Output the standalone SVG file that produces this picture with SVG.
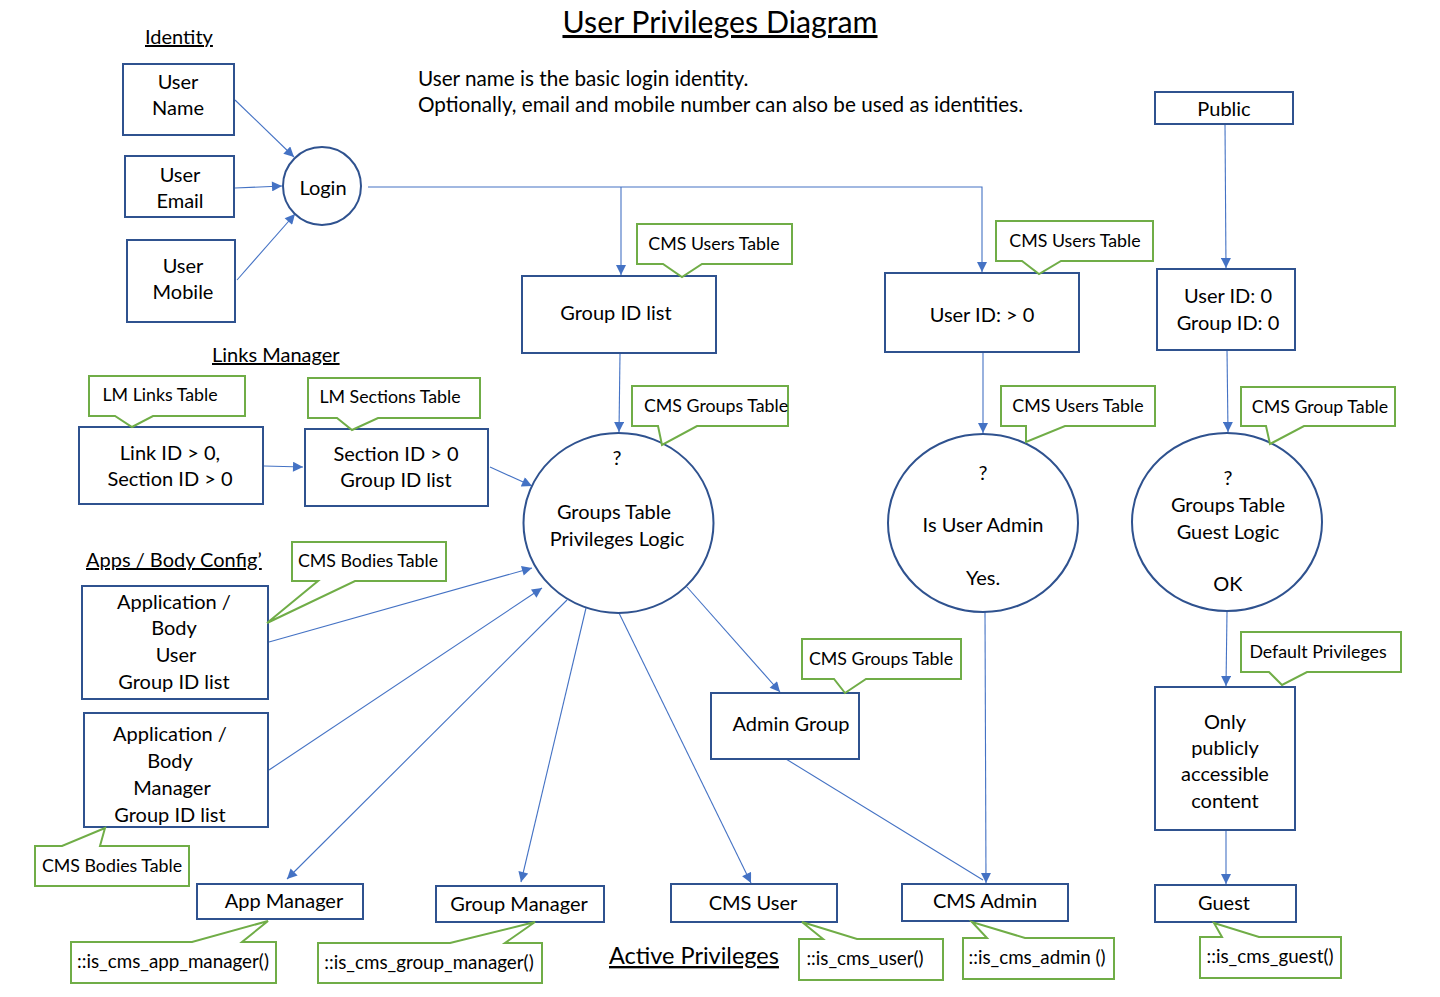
<svg xmlns="http://www.w3.org/2000/svg" width="1440" height="997" viewBox="0 0 1440 997">
<defs>
<marker id="ah" viewBox="0 0 10 10" refX="10" refY="5" markerWidth="11" markerHeight="10" markerUnits="userSpaceOnUse" orient="auto">
<path d="M0,0 L10,5 L0,10 Z" fill="#4472C4"/>
</marker>
<style>
text{font-family:Lato,"Open Sans","Liberation Sans",sans-serif;fill:#000}
.t{font-size:20px;text-anchor:middle}
.c{font-size:17.8px;text-anchor:middle}
.f{font-size:18.8px;text-anchor:middle}
.h{font-size:20px;text-decoration:underline}
.box{fill:#fff;stroke:#2F528F;stroke-width:2}
.co{fill:#fff;stroke:#70AD47;stroke-width:2}
.ln{fill:none;stroke:#4472C4;stroke-width:1.1}
.ar{fill:none;stroke:#4472C4;stroke-width:1.1;marker-end:url(#ah)}
</style>
</defs>
<rect width="1440" height="997" fill="#fff"/>

<g id="labels">
<text x="720" y="33" style="font-size:30.3px;text-anchor:middle;text-decoration:underline">User Privileges Diagram</text>
<text x="145" y="44" class="h">Identity</text>
<text x="212" y="362" class="h">Links Manager</text>
<text x="86" y="567" class="h">Apps / Body Config’</text>
<text x="609" y="964" class="h" style="font-size:23.5px">Active Privileges</text>
<text x="418" y="86" style="font-size:20.7px">User name is the basic login identity.</text>
<text x="418" y="112" style="font-size:20.7px">Optionally, email and mobile number can also be used as identities.</text>
</g>

<g id="connectors">
<path class="ar" d="M235,100 L294,157"/>
<path class="ar" d="M235,188 L282,186"/>
<path class="ar" d="M237,280 L295,214"/>
<path class="ar" d="M368,187 H982 V272"/>
<path class="ar" d="M621,187 V275"/>
<path class="ar" d="M620,354 L619,432"/>
<path class="ar" d="M983,353 V433"/>
<path class="ar" d="M1225,124 L1226,268"/>
<path class="ar" d="M1227,350 L1228,432"/>
<path class="ar" d="M264,466 L303,467"/>
<path class="ar" d="M490,467 L532,486"/>
<path class="ar" d="M269,642 L532,568"/>
<path class="ar" d="M269,770 L542,588"/>
<path class="ar" d="M567,600 L287,879"/>
<path class="ar" d="M586,608 L521,882"/>
<path class="ar" d="M619,613 L751,883"/>
<path class="ar" d="M687,587 L780,692"/>
<path class="ln" d="M786,759 L983,880"/>
<path class="ar" d="M985,612 L986,883"/>
<path class="ar" d="M1227,612 L1226,686"/>
<path class="ar" d="M1226,830 V884"/>
</g>

<g id="user-name"><rect class="box" x="123" y="64" width="111" height="71"/><text class="t" x="178" y="89">User</text><text class="t" x="178" y="115">Name</text></g>
<g id="user-email"><rect class="box" x="125" y="156" width="109" height="61"/><text class="t" x="180" y="182">User</text><text class="t" x="180" y="208">Email</text></g>
<g id="user-mobile"><rect class="box" x="127" y="240" width="108" height="82"/><text class="t" x="183" y="273">User</text><text class="t" x="183" y="299">Mobile</text></g>
<g id="login"><circle class="box" cx="322" cy="186" r="39"/><text class="t" x="323" y="195">Login</text></g>

<g id="group-id-list"><rect class="box" x="522" y="276" width="194" height="77"/><text class="t" x="616" y="320">Group ID list</text></g>
<g id="callout-cms-users-1"><path class="co" d="M637,224 H792 V264 H702 L682,277 L663,264 H637 Z"/><text class="c" x="714" y="250">CMS Users Table</text></g>

<g id="user-id-gt0"><rect class="box" x="885" y="273" width="194" height="79"/><text class="t" x="982" y="322">User ID: &gt; 0</text></g>
<g id="callout-cms-users-2"><path class="co" d="M996,221 H1153 V261 H1061 L1039,274 L1022,261 H996 Z"/><text class="c" x="1075" y="247">CMS Users Table</text></g>

<g id="public"><rect class="box" x="1155" y="92" width="138" height="32"/><text class="t" x="1224" y="116">Public</text></g>
<g id="user-id-0"><rect class="box" x="1157" y="269" width="138" height="81"/><text class="t" x="1228" y="303">User ID: 0</text><text class="t" x="1228" y="330">Group ID: 0</text></g>

<g id="groups-privileges-logic"><ellipse class="box" cx="618.5" cy="523" rx="95" ry="90"/><text class="t" x="617" y="465">?</text><text class="t" x="614" y="519">Groups Table</text><text class="t" x="617" y="546">Privileges Logic</text></g>
<g id="callout-cms-groups-1"><path class="co" d="M632,386 H788 V426 H697 L662,445 L658,426 H632 Z"/><text class="c" x="716" y="412">CMS Groups Table</text></g>

<g id="is-user-admin"><ellipse class="box" cx="983" cy="523" rx="95" ry="89"/><text class="t" x="983" y="480">?</text><text class="t" x="983" y="532">Is User Admin</text><text class="t" x="983" y="585">Yes.</text></g>
<g id="callout-cms-users-3"><path class="co" d="M1001,386 H1155 V426 H1065 L1026,442 L1026,426 H1001 Z"/><text class="c" x="1078" y="412">CMS Users Table</text></g>

<g id="guest-logic"><ellipse class="box" cx="1227" cy="522" rx="95" ry="89"/><text class="t" x="1228" y="485">?</text><text class="t" x="1228" y="512">Groups Table</text><text class="t" x="1228" y="539">Guest Logic</text><text class="t" x="1228" y="591">OK</text></g>
<g id="callout-cms-group"><path class="co" d="M1241,387 H1395 V426 H1304 L1270,444 L1266,426 H1241 Z"/><text class="c" x="1320" y="413">CMS Group Table</text></g>

<g id="link-id"><rect class="box" x="79" y="427" width="184" height="77"/><text class="t" x="170" y="460">Link ID &gt; 0,</text><text class="t" x="170" y="486">Section ID &gt; 0</text></g>
<g id="callout-lm-links"><path class="co" d="M89,376 H245 V416 H153 L132,427 L115,416 H89 Z"/><text class="c" x="160" y="401">LM Links Table</text></g>
<g id="section-id"><rect class="box" x="305" y="429" width="183" height="77"/><text class="t" x="396" y="461">Section ID &gt; 0</text><text class="t" x="396" y="487">Group ID list</text></g>
<g id="callout-lm-sections"><path class="co" d="M308,378 H480 V418 H378 L352,430 L337,418 H308 Z"/><text class="c" x="390" y="403">LM Sections Table</text></g>

<g id="app-body-user"><rect class="box" x="82" y="586" width="186" height="113"/><text class="t" x="174" y="609">Application /</text><text class="t" x="174" y="635">Body</text><text class="t" x="176" y="662">User</text><text class="t" x="174" y="689">Group ID list</text></g>
<g id="callout-cms-bodies-1"><path class="co" d="M292,542 H446 V581 H355 L267,623 L318,581 H292 Z"/><text class="c" x="368" y="567">CMS Bodies Table</text></g>

<g id="app-body-manager"><rect class="box" x="84" y="713" width="184" height="114"/><text class="t" x="170" y="741">Application /</text><text class="t" x="170" y="768">Body</text><text class="t" x="172" y="795">Manager</text><text class="t" x="170" y="822">Group ID list</text></g>
<g id="callout-cms-bodies-2"><path class="co" d="M35,846 H62 L105,828 L100,846 H189 V886 H35 Z"/><text class="c" x="112" y="872">CMS Bodies Table</text></g>

<g id="admin-group"><rect class="box" x="711" y="693" width="148" height="66"/><text class="t" x="791" y="731">Admin Group</text></g>
<g id="callout-cms-groups-2"><path class="co" d="M802,639 H961 V679 H866 L845,693 L834,679 H802 Z"/><text class="c" x="881" y="665">CMS Groups Table</text></g>

<g id="only-public"><rect class="box" x="1155" y="687" width="140" height="143"/><text class="t" x="1225" y="729">Only</text><text class="t" x="1225" y="755">publicly</text><text class="t" x="1225" y="781">accessible</text><text class="t" x="1225" y="808">content</text></g>
<g id="callout-default-privileges"><path class="co" d="M1241,632 H1401 V672 H1307 L1282,685 L1269,672 H1241 Z"/><text class="c" x="1318" y="658">Default Privileges</text></g>

<g id="app-manager"><rect class="box" x="197" y="884" width="166" height="35"/><text class="t" x="284" y="908">App Manager</text></g>
<g id="callout-app-manager"><path class="co" d="M71,942 H192 L268,921 L242,942 H276 V983 H71 Z"/><text class="f" x="173" y="968">::is_cms_app_manager()</text></g>

<g id="group-manager"><rect class="box" x="436" y="886" width="168" height="36"/><text class="t" x="519" y="911">Group Manager</text></g>
<g id="callout-group-manager"><path class="co" d="M318,943 H450 L535,922 L505,943 H542 V983 H318 Z"/><text class="f" x="429" y="969">::is_cms_group_manager()</text></g>

<g id="cms-user"><rect class="box" x="671" y="884" width="166" height="38"/><text class="t" x="753" y="910">CMS User</text></g>
<g id="callout-cms-user"><path class="co" d="M799,939 H823 L802,922 L857,939 H943 V980 H799 Z"/><text class="f" x="865" y="965">::is_cms_user()</text></g>

<g id="cms-admin"><rect class="box" x="902" y="884" width="166" height="37"/><text class="t" x="985" y="908">CMS Admin</text></g>
<g id="callout-cms-admin"><path class="co" d="M963,938 H987 L972,922 L1025,938 H1114 V979 H963 Z"/><text class="f" x="1037" y="964">::is_cms_admin ()</text></g>

<g id="guest"><rect class="box" x="1155" y="885" width="141" height="37"/><text class="t" x="1224" y="910">Guest</text></g>
<g id="callout-cms-guest"><path class="co" d="M1200,937 H1222 L1214,923 L1259,937 H1341 V978 H1200 Z"/><text class="f" x="1270" y="963">::is_cms_guest()</text></g>
</svg>
